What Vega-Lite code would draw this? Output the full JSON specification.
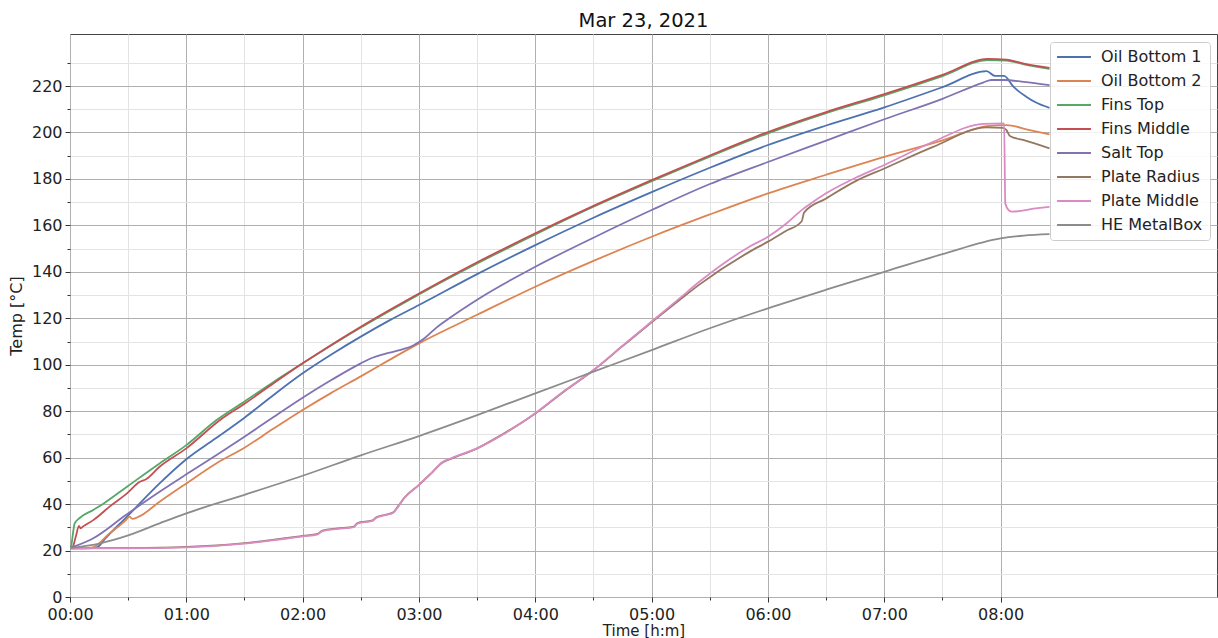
{
  "$schema": "https://vega.github.io/schema/vega-lite/v6.json",
  "autosize": "none",
  "width": 1147,
  "height": 563,
  "padding": {"left": 70, "top": 34, "right": 1, "bottom": 41},
  "background": "white",
  "title": {"text": "Mar 23, 2021", "fontSize": 19.5, "fontWeight": "normal", "font": "DejaVu Sans", "color": "#111", "offset": 3},
  "config": {
    "view": {"stroke": "#444", "strokeWidth": 1},
    "font": "DejaVu Sans"
  },
  "data": {"values": [
    {"s":"Oil Bottom 1","h":0,"t":21},{"s":"Oil Bottom 1","h":0.1,"t":21},{"s":"Oil Bottom 1","h":0.2,"t":21.1},{"s":"Oil Bottom 1","h":0.24,"t":21.6},{"s":"Oil Bottom 1","h":0.3,"t":25},{"s":"Oil Bottom 1","h":0.49,"t":34.6},{"s":"Oil Bottom 1","h":0.77,"t":48.9},{"s":"Oil Bottom 1","h":1.0,"t":59.3},{"s":"Oil Bottom 1","h":1.25,"t":68.2},{"s":"Oil Bottom 1","h":1.5,"t":77.2},{"s":"Oil Bottom 1","h":1.75,"t":87},{"s":"Oil Bottom 1","h":2.0,"t":96.3},{"s":"Oil Bottom 1","h":2.25,"t":104.5},{"s":"Oil Bottom 1","h":2.5,"t":112.1},{"s":"Oil Bottom 1","h":2.75,"t":119.2},{"s":"Oil Bottom 1","h":3.0,"t":125.7},{"s":"Oil Bottom 1","h":3.5,"t":139},{"s":"Oil Bottom 1","h":4.0,"t":151.5},{"s":"Oil Bottom 1","h":4.5,"t":163.3},{"s":"Oil Bottom 1","h":5.0,"t":174.3},{"s":"Oil Bottom 1","h":5.5,"t":184.8},{"s":"Oil Bottom 1","h":6.0,"t":194.6},{"s":"Oil Bottom 1","h":6.5,"t":203},{"s":"Oil Bottom 1","h":7.0,"t":210.8},{"s":"Oil Bottom 1","h":7.5,"t":219.5},{"s":"Oil Bottom 1","h":7.88,"t":226.4},{"s":"Oil Bottom 1","h":7.95,"t":224.4},{"s":"Oil Bottom 1","h":8.03,"t":224.4},{"s":"Oil Bottom 1","h":8.11,"t":219.7},{"s":"Oil Bottom 1","h":8.22,"t":215.4},{"s":"Oil Bottom 1","h":8.3,"t":213},{"s":"Oil Bottom 1","h":8.42,"t":210.6},
    {"s":"Oil Bottom 2","h":0,"t":21},{"s":"Oil Bottom 2","h":0.1,"t":21},{"s":"Oil Bottom 2","h":0.184,"t":21.2},{"s":"Oil Bottom 2","h":0.34,"t":27.4},{"s":"Oil Bottom 2","h":0.48,"t":33.1},{"s":"Oil Bottom 2","h":0.51,"t":34.6},{"s":"Oil Bottom 2","h":0.54,"t":33.6},{"s":"Oil Bottom 2","h":0.6,"t":34.8},{"s":"Oil Bottom 2","h":0.77,"t":41},{"s":"Oil Bottom 2","h":1.0,"t":48.9},{"s":"Oil Bottom 2","h":1.26,"t":57.6},{"s":"Oil Bottom 2","h":1.5,"t":64.3},{"s":"Oil Bottom 2","h":1.75,"t":72.5},{"s":"Oil Bottom 2","h":2.0,"t":80.5},{"s":"Oil Bottom 2","h":2.25,"t":88},{"s":"Oil Bottom 2","h":2.5,"t":95},{"s":"Oil Bottom 2","h":2.75,"t":102.2},{"s":"Oil Bottom 2","h":3.0,"t":109.2},{"s":"Oil Bottom 2","h":3.5,"t":121.5},{"s":"Oil Bottom 2","h":4.0,"t":133.6},{"s":"Oil Bottom 2","h":4.5,"t":144.7},{"s":"Oil Bottom 2","h":5.0,"t":155.1},{"s":"Oil Bottom 2","h":5.5,"t":164.7},{"s":"Oil Bottom 2","h":6.0,"t":173.8},{"s":"Oil Bottom 2","h":6.5,"t":181.8},{"s":"Oil Bottom 2","h":7.0,"t":189.5},{"s":"Oil Bottom 2","h":7.5,"t":196.6},{"s":"Oil Bottom 2","h":7.88,"t":202.7},{"s":"Oil Bottom 2","h":8.05,"t":203.2},{"s":"Oil Bottom 2","h":8.25,"t":201},{"s":"Oil Bottom 2","h":8.42,"t":199.2},
    {"s":"Fins Top","h":0,"t":21},{"s":"Fins Top","h":0.01,"t":22},{"s":"Fins Top","h":0.03,"t":29},{"s":"Fins Top","h":0.04,"t":31.7},{"s":"Fins Top","h":0.08,"t":33.9},{"s":"Fins Top","h":0.2,"t":37.5},{"s":"Fins Top","h":0.29,"t":40.3},{"s":"Fins Top","h":0.49,"t":47.5},{"s":"Fins Top","h":0.77,"t":57.5},{"s":"Fins Top","h":1.0,"t":65.4},{"s":"Fins Top","h":1.26,"t":76.2},{"s":"Fins Top","h":1.5,"t":84.2},{"s":"Fins Top","h":1.75,"t":92.6},{"s":"Fins Top","h":2.0,"t":100.6},{"s":"Fins Top","h":2.5,"t":116},{"s":"Fins Top","h":3.0,"t":130.3},{"s":"Fins Top","h":3.5,"t":143.6},{"s":"Fins Top","h":4.0,"t":156.1},{"s":"Fins Top","h":4.5,"t":168},{"s":"Fins Top","h":5.0,"t":179},{"s":"Fins Top","h":5.5,"t":189.6},{"s":"Fins Top","h":6.0,"t":199.6},{"s":"Fins Top","h":6.5,"t":208.3},{"s":"Fins Top","h":7.0,"t":216},{"s":"Fins Top","h":7.5,"t":224.3},{"s":"Fins Top","h":7.89,"t":231.2},{"s":"Fins Top","h":8.05,"t":231},{"s":"Fins Top","h":8.2,"t":229.3},{"s":"Fins Top","h":8.42,"t":227.4},
    {"s":"Fins Middle","h":0,"t":21},{"s":"Fins Middle","h":0.02,"t":21.3},{"s":"Fins Middle","h":0.05,"t":26},{"s":"Fins Middle","h":0.077,"t":30.6},{"s":"Fins Middle","h":0.09,"t":29.6},{"s":"Fins Middle","h":0.11,"t":30.3},{"s":"Fins Middle","h":0.2,"t":33.1},{"s":"Fins Middle","h":0.34,"t":38.9},{"s":"Fins Middle","h":0.49,"t":44.6},{"s":"Fins Middle","h":0.6,"t":49.6},{"s":"Fins Middle","h":0.65,"t":50.6},{"s":"Fins Middle","h":0.77,"t":56.1},{"s":"Fins Middle","h":1.0,"t":64},{"s":"Fins Middle","h":1.29,"t":76.2},{"s":"Fins Middle","h":1.5,"t":83.2},{"s":"Fins Middle","h":1.75,"t":92},{"s":"Fins Middle","h":2.0,"t":100.6},{"s":"Fins Middle","h":2.5,"t":116.4},{"s":"Fins Middle","h":3.0,"t":130.7},{"s":"Fins Middle","h":3.5,"t":144.1},{"s":"Fins Middle","h":4.0,"t":156.6},{"s":"Fins Middle","h":4.5,"t":168.4},{"s":"Fins Middle","h":5.0,"t":179.5},{"s":"Fins Middle","h":5.5,"t":190.1},{"s":"Fins Middle","h":6.0,"t":200.2},{"s":"Fins Middle","h":6.5,"t":208.8},{"s":"Fins Middle","h":7.0,"t":216.5},{"s":"Fins Middle","h":7.5,"t":224.8},{"s":"Fins Middle","h":7.89,"t":231.7},{"s":"Fins Middle","h":8.05,"t":231.4},{"s":"Fins Middle","h":8.2,"t":229.6},{"s":"Fins Middle","h":8.42,"t":227.8},
    {"s":"Salt Top","h":0,"t":21},{"s":"Salt Top","h":0.01,"t":21.2},{"s":"Salt Top","h":0.2,"t":25.3},{"s":"Salt Top","h":0.48,"t":35.3},{"s":"Salt Top","h":0.77,"t":45.3},{"s":"Salt Top","h":1.0,"t":52.8},{"s":"Salt Top","h":1.26,"t":61.1},{"s":"Salt Top","h":1.5,"t":69},{"s":"Salt Top","h":1.75,"t":77.5},{"s":"Salt Top","h":2.0,"t":85.8},{"s":"Salt Top","h":2.25,"t":93.5},{"s":"Salt Top","h":2.5,"t":100.6},{"s":"Salt Top","h":2.6,"t":103},{"s":"Salt Top","h":2.7,"t":104.6},{"s":"Salt Top","h":2.85,"t":106.5},{"s":"Salt Top","h":2.95,"t":108.3},{"s":"Salt Top","h":3.05,"t":111.5},{"s":"Salt Top","h":3.15,"t":116},{"s":"Salt Top","h":3.26,"t":120},{"s":"Salt Top","h":3.5,"t":128},{"s":"Salt Top","h":4.0,"t":142.2},{"s":"Salt Top","h":4.5,"t":154.7},{"s":"Salt Top","h":5.0,"t":166.6},{"s":"Salt Top","h":5.5,"t":177.8},{"s":"Salt Top","h":6.0,"t":187.3},{"s":"Salt Top","h":6.5,"t":196.5},{"s":"Salt Top","h":7.0,"t":205.7},{"s":"Salt Top","h":7.5,"t":214.5},{"s":"Salt Top","h":7.85,"t":221.5},{"s":"Salt Top","h":7.92,"t":222.6},{"s":"Salt Top","h":8.03,"t":222.6},{"s":"Salt Top","h":8.2,"t":221.8},{"s":"Salt Top","h":8.42,"t":220.4},
    {"s":"Plate Radius","h":0,"t":21},{"s":"Plate Radius","h":0.5,"t":21.1},{"s":"Plate Radius","h":1.0,"t":21.6},{"s":"Plate Radius","h":1.5,"t":23.2},{"s":"Plate Radius","h":2.0,"t":26.3},{"s":"Plate Radius","h":2.13,"t":27.2},{"s":"Plate Radius","h":2.17,"t":28.6},{"s":"Plate Radius","h":2.3,"t":29.5},{"s":"Plate Radius","h":2.44,"t":30.3},{"s":"Plate Radius","h":2.47,"t":31.8},{"s":"Plate Radius","h":2.6,"t":33},{"s":"Plate Radius","h":2.63,"t":34.2},{"s":"Plate Radius","h":2.7,"t":35.3},{"s":"Plate Radius","h":2.78,"t":36.5},{"s":"Plate Radius","h":2.82,"t":39},{"s":"Plate Radius","h":2.87,"t":42.5},{"s":"Plate Radius","h":3.0,"t":48.3},{"s":"Plate Radius","h":3.1,"t":53},{"s":"Plate Radius","h":3.2,"t":57.8},{"s":"Plate Radius","h":3.28,"t":59.6},{"s":"Plate Radius","h":3.5,"t":64},{"s":"Plate Radius","h":3.7,"t":69.5},{"s":"Plate Radius","h":4.0,"t":79},{"s":"Plate Radius","h":4.25,"t":88.6},{"s":"Plate Radius","h":4.5,"t":97.6},{"s":"Plate Radius","h":4.75,"t":108},{"s":"Plate Radius","h":5.0,"t":118.3},{"s":"Plate Radius","h":5.25,"t":128.3},{"s":"Plate Radius","h":5.41,"t":134.5},{"s":"Plate Radius","h":5.84,"t":148.6},{"s":"Plate Radius","h":6.0,"t":153},{"s":"Plate Radius","h":6.15,"t":157.5},{"s":"Plate Radius","h":6.29,"t":161.8},{"s":"Plate Radius","h":6.31,"t":165.5},{"s":"Plate Radius","h":6.5,"t":171.6},{"s":"Plate Radius","h":6.77,"t":179.5},{"s":"Plate Radius","h":7.0,"t":184.5},{"s":"Plate Radius","h":7.42,"t":193.8},{"s":"Plate Radius","h":7.88,"t":202.2},{"s":"Plate Radius","h":8.02,"t":202},{"s":"Plate Radius","h":8.05,"t":201},{"s":"Plate Radius","h":8.08,"t":198.5},{"s":"Plate Radius","h":8.2,"t":196.7},{"s":"Plate Radius","h":8.42,"t":193.2},
    {"s":"Plate Middle","h":0,"t":21},{"s":"Plate Middle","h":0.5,"t":21},{"s":"Plate Middle","h":1.0,"t":21.4},{"s":"Plate Middle","h":1.5,"t":23},{"s":"Plate Middle","h":2.0,"t":26.1},{"s":"Plate Middle","h":2.13,"t":27},{"s":"Plate Middle","h":2.17,"t":28.4},{"s":"Plate Middle","h":2.3,"t":29.3},{"s":"Plate Middle","h":2.44,"t":30.1},{"s":"Plate Middle","h":2.47,"t":31.6},{"s":"Plate Middle","h":2.6,"t":32.8},{"s":"Plate Middle","h":2.63,"t":34},{"s":"Plate Middle","h":2.7,"t":35.1},{"s":"Plate Middle","h":2.78,"t":36.3},{"s":"Plate Middle","h":2.82,"t":38.8},{"s":"Plate Middle","h":2.87,"t":42.3},{"s":"Plate Middle","h":3.0,"t":48.3},{"s":"Plate Middle","h":3.1,"t":53},{"s":"Plate Middle","h":3.2,"t":58},{"s":"Plate Middle","h":3.28,"t":59.8},{"s":"Plate Middle","h":3.5,"t":64},{"s":"Plate Middle","h":3.7,"t":69.3},{"s":"Plate Middle","h":4.0,"t":79.1},{"s":"Plate Middle","h":4.25,"t":88.8},{"s":"Plate Middle","h":4.5,"t":97.7},{"s":"Plate Middle","h":4.75,"t":108.2},{"s":"Plate Middle","h":5.0,"t":118.6},{"s":"Plate Middle","h":5.25,"t":129},{"s":"Plate Middle","h":5.41,"t":135.7},{"s":"Plate Middle","h":5.84,"t":150.8},{"s":"Plate Middle","h":6.0,"t":155.1},{"s":"Plate Middle","h":6.15,"t":160.5},{"s":"Plate Middle","h":6.3,"t":167},{"s":"Plate Middle","h":6.35,"t":168.8},{"s":"Plate Middle","h":6.5,"t":173.8},{"s":"Plate Middle","h":6.77,"t":180.9},{"s":"Plate Middle","h":7.0,"t":186},{"s":"Plate Middle","h":7.42,"t":196},{"s":"Plate Middle","h":7.85,"t":203.7},{"s":"Plate Middle","h":8.03,"t":203.9},{"s":"Plate Middle","h":8.04,"t":169.5},{"s":"Plate Middle","h":8.07,"t":166.5},{"s":"Plate Middle","h":8.1,"t":165.9},{"s":"Plate Middle","h":8.3,"t":167.3},{"s":"Plate Middle","h":8.42,"t":168},
    {"s":"HE MetalBox","h":0,"t":21},{"s":"HE MetalBox","h":0.26,"t":23.1},{"s":"HE MetalBox","h":0.5,"t":26.5},{"s":"HE MetalBox","h":0.77,"t":31.7},{"s":"HE MetalBox","h":1.0,"t":36},{"s":"HE MetalBox","h":1.5,"t":44},{"s":"HE MetalBox","h":2.0,"t":52.2},{"s":"HE MetalBox","h":2.5,"t":61},{"s":"HE MetalBox","h":3.0,"t":69.3},{"s":"HE MetalBox","h":3.5,"t":78.3},{"s":"HE MetalBox","h":4.0,"t":87.7},{"s":"HE MetalBox","h":4.5,"t":97},{"s":"HE MetalBox","h":5.0,"t":106.3},{"s":"HE MetalBox","h":5.5,"t":115.7},{"s":"HE MetalBox","h":6.0,"t":124.3},{"s":"HE MetalBox","h":6.5,"t":132.3},{"s":"HE MetalBox","h":7.0,"t":140},{"s":"HE MetalBox","h":7.5,"t":147.6},{"s":"HE MetalBox","h":8.0,"t":154.4},{"s":"HE MetalBox","h":8.2,"t":155.6},{"s":"HE MetalBox","h":8.42,"t":156.2}
  ]},
  "mark": {"type": "line", "strokeWidth": 1.8, "clip": true, "interpolate": "monotone"},
  "encoding": {
    "x": {
      "field": "h", "type": "quantitative",
      "scale": {"domain": [0, 9.86], "nice": false, "zero": false},
      "axis": {
        "values": [0,0.5,1,1.5,2,2.5,3,3.5,4,4.5,5,5.5,6,6.5,7,7.5,8],
        "labelExpr": "datum.value % 1 == 0 ? '0' + datum.value + ':00' : ''",
        "title": "Time [h:m]",
        "grid": true,
        "gridColor": {"condition": {"test": "datum.value % 1 == 0", "value": "#b0b0b0"}, "value": "#e3e3e3"},
        "tickSize": {"condition": {"test": "datum.value % 1 == 0", "value": 5}, "value": 3},
        "tickColor": "#333",
        "domain": false,
        "labelFontSize": 16, "labelColor": "#222", "labelPadding": 4, "labelFlush": false, "labelOverlap": false,
        "titleFontSize": 15, "titleFontWeight": "normal", "titleColor": "#222", "titlePadding": 1
      }
    },
    "y": {
      "field": "t", "type": "quantitative",
      "scale": {"domain": [0, 242.4], "nice": false, "zero": false},
      "axis": {
        "values": [0,10,20,30,40,50,60,70,80,90,100,110,120,130,140,150,160,170,180,190,200,210,220,230],
        "labelExpr": "datum.value % 20 == 0 ? '' + datum.value : ''",
        "title": "Temp [°C]",
        "grid": true,
        "gridColor": {"condition": {"test": "datum.value % 20 == 0", "value": "#b0b0b0"}, "value": "#e3e3e3"},
        "tickSize": {"condition": {"test": "datum.value % 20 == 0", "value": 5}, "value": 3},
        "tickColor": "#333",
        "domain": false,
        "labelFontSize": 16, "labelColor": "#222", "labelPadding": 3, "labelFlush": false, "labelOverlap": false,
        "titleFontSize": 16, "titleFontWeight": "normal", "titleColor": "#222", "titlePadding": 7
      }
    },
    "color": {
      "field": "s", "type": "nominal",
      "scale": {
        "domain": ["Oil Bottom 1","Oil Bottom 2","Fins Top","Fins Middle","Salt Top","Plate Radius","Plate Middle","HE MetalBox"],
        "range": ["#4c72b0","#dd8452","#55a868","#c44e52","#8172b3","#937860","#da8bc3","#8c8c8c"]
      },
      "legend": {
        "title": null, "orient": "none", "legendX": 980, "legendY": 8,
        "fillColor": "rgba(255,255,255,0.85)", "strokeColor": "#cccccc", "cornerRadius": 3, "padding": 7,
        "symbolType": "M-3,0H3", "symbolSize": 128, "symbolStrokeWidth": 2, "symbolOffset": 9,
        "labelOffset": 19, "labelFontSize": 16, "labelColor": "#222", "rowPadding": 8
      }
    }
  }
}
